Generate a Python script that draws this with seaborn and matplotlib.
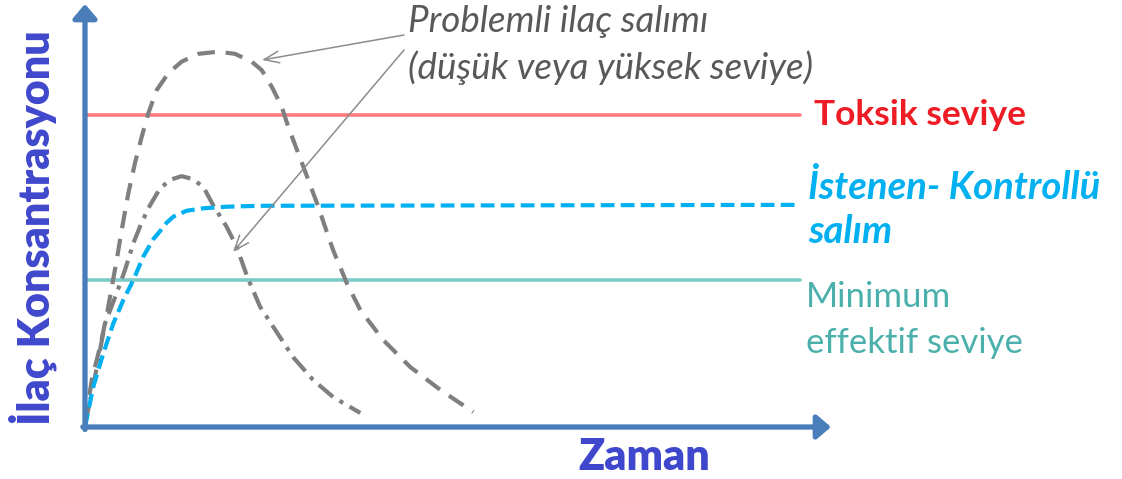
import numpy as np
import pandas as pd
import matplotlib
matplotlib.use("Agg")
import matplotlib.pyplot as plt
import seaborn as sns

sns.set_theme(style="white")
plt.rcParams['font.family'] = ['Lato', 'DejaVu Sans']

# ---- data (time units, concentration units) ----
toxic_level = 10.0
min_effective_level = 4.71

controlled_t = [0.0, 0.116, 0.256, 0.396, 0.536, 0.676, 0.815, 0.955, 1.05, 1.143, 1.235, 1.42, 1.655, 1.98, 2.45, 5.0, 7.5, 10.0]
controlled_c = [0.0, 1.29, 2.36, 3.32, 4.07, 4.71, 5.46, 6.02, 6.28, 6.55, 6.74, 6.93, 7.01, 7.06, 7.09, 7.10, 7.11, 7.12]

high_t = [0.0, 0.024, 0.094, 0.21, 0.30, 0.443, 0.513, 0.606, 0.699, 0.793, 0.885, 1.003, 1.165, 1.352, 1.585,
          1.864, 2.098, 2.331, 2.471, 2.611, 2.751, 2.843, 2.983, 3.123, 3.263, 3.357, 3.47, 3.66, 3.85, 4.17,
          4.55, 4.97, 5.43]
high_c = [0.13, 0.44, 1.51, 2.57, 3.54, 5.35, 6.31, 7.49, 8.46, 9.30, 10.05, 10.80, 11.34, 11.71, 11.96,
          12.03, 11.96, 11.71, 11.44, 10.91, 10.27, 9.62, 8.77, 7.92, 7.06, 6.42, 5.67, 4.62, 3.75, 2.79,
          1.92, 1.19, 0.48]

peak_t = [0.0, 0.024, 0.14, 0.28, 0.443, 0.559, 0.676, 0.769, 0.885, 1.049, 1.20, 1.352, 1.50, 1.655, 1.79,
          1.98, 2.12, 2.27, 2.45, 2.69, 2.91, 3.19, 3.47, 3.85]
peak_c = [0.06, 0.33, 1.61, 3.32, 4.29, 5.03, 5.89, 6.42, 7.01, 7.65, 7.93, 8.04, 7.95, 7.70, 7.12,
          6.42, 5.78, 4.81, 3.85, 3.01, 2.24, 1.51, 0.96, 0.45]

level_t = [0.0, 10.0]

# ---- figure / axes mapping ----
W, H = 1122, 479
fig = plt.figure(figsize=(W / 100, H / 100), dpi=100)
ax = fig.add_axes([0, 0, 1, 1])
ox, oy = 85, 427          # pixel of origin
sx, sy = 71.5, 31.2       # pixels per unit
ax.set_xlim(-ox / sx, (W - ox) / sx)
ax.set_ylim(-(H - oy) / sy, oy / sy)
ax.axis('off')

# level lines
sns.lineplot(x=level_t, y=[toxic_level] * 2, ax=ax, color='#FF7B7B', lw=2.6, zorder=2)
sns.lineplot(x=level_t, y=[min_effective_level] * 2, ax=ax, color='#7ECAC8', lw=2.6, zorder=2)

# curves
df_c = pd.DataFrame({'t': controlled_t, 'c': controlled_c})
df_h = pd.DataFrame({'t': high_t, 'c': high_c})
df_p = pd.DataFrame({'t': peak_t, 'c': peak_c})
sns.lineplot(data=df_h, x='t', y='c', ax=ax, sort=False, estimator=None, color='#7F7F7F', lw=3.0,
             linestyle=(0, (4.2, 2.6)), zorder=3)
sns.lineplot(data=df_p, x='t', y='c', ax=ax, sort=False, estimator=None, color='#7F7F7F', lw=3.0,
             linestyle=(0, (4.5, 1.8, 1.0, 1.8)), zorder=3)
sns.lineplot(data=df_c, x='t', y='c', ax=ax, sort=False, estimator=None, color='#00B0F0', lw=3.0,
             linestyle=(0, (3.3, 1.5)), zorder=4)

# axes with arrows
axis_col = '#4A7EBB'
ax.annotate('', xy=(0, (oy - 4) / sy), xytext=(0, -0.08), zorder=5,
            arrowprops=dict(arrowstyle='-|>,head_width=0.6,head_length=0.7', lw=3.8,
                            color=axis_col, shrinkA=0, shrinkB=0))
ax.annotate('', xy=((831 - ox) / sx, 0), xytext=(-0.03, 0), zorder=5,
            arrowprops=dict(arrowstyle='-|>,head_width=0.6,head_length=0.7', lw=3.8,
                            color=axis_col, shrinkA=0, shrinkB=0))

def px(x, y):
    return ((x - ox) / sx, (oy - y) / sy)

# annotation arrows
ann_col = '#8C8C8C'
ax.annotate('', xy=px(262, 60), xytext=px(404, 35), zorder=6,
            arrowprops=dict(arrowstyle='->,head_width=0.35,head_length=0.9', lw=1.1, color=ann_col,
                            shrinkA=0, shrinkB=0))
ax.annotate('', xy=px(233, 252), xytext=px(404, 50), zorder=6,
            arrowprops=dict(arrowstyle='->,head_width=0.35,head_length=0.9', lw=1.1, color=ann_col,
                            shrinkA=0, shrinkB=0))

# texts
ax.text(*px(408, 22), 'Problemli ilaç salımı', color='#595959', fontsize=26.5, style='italic',
        ha='left', va='center')
ax.text(*px(408, 68), '(düşük veya yüksek seviye)', color='#595959', fontsize=26.5, style='italic',
        ha='left', va='center')
ax.text(*px(814, 115), 'Toksik seviye', color='#EE1C25', fontsize=25.5, fontweight='bold',
        ha='left', va='center')
ax.text(*px(808, 187), 'İstenen- Kontrollü', color='#00B0F0', fontsize=27.5, fontweight='bold',
        style='italic', ha='left', va='center')
ax.text(*px(808, 232), 'salım', color='#00B0F0', fontsize=27.5, fontweight='bold',
        style='italic', ha='left', va='center')
ax.text(*px(806, 297), 'Minimum', color='#4BB0AC', fontsize=25, ha='left', va='center')
ax.text(*px(806, 343), 'effektif seviye', color='#4BB0AC', fontsize=25, ha='left', va='center')
ax.text(*px(644, 457), 'Zaman', color='#3F48CC', fontsize=31, fontweight='heavy',
        ha='center', va='center')
ax.text(*px(33, 228), 'İlaç Konsantrasyonu', color='#3F48CC', fontsize=31, fontweight='heavy',
        rotation=90, ha='center', va='center')

fig.savefig('out.png', dpi=100)
